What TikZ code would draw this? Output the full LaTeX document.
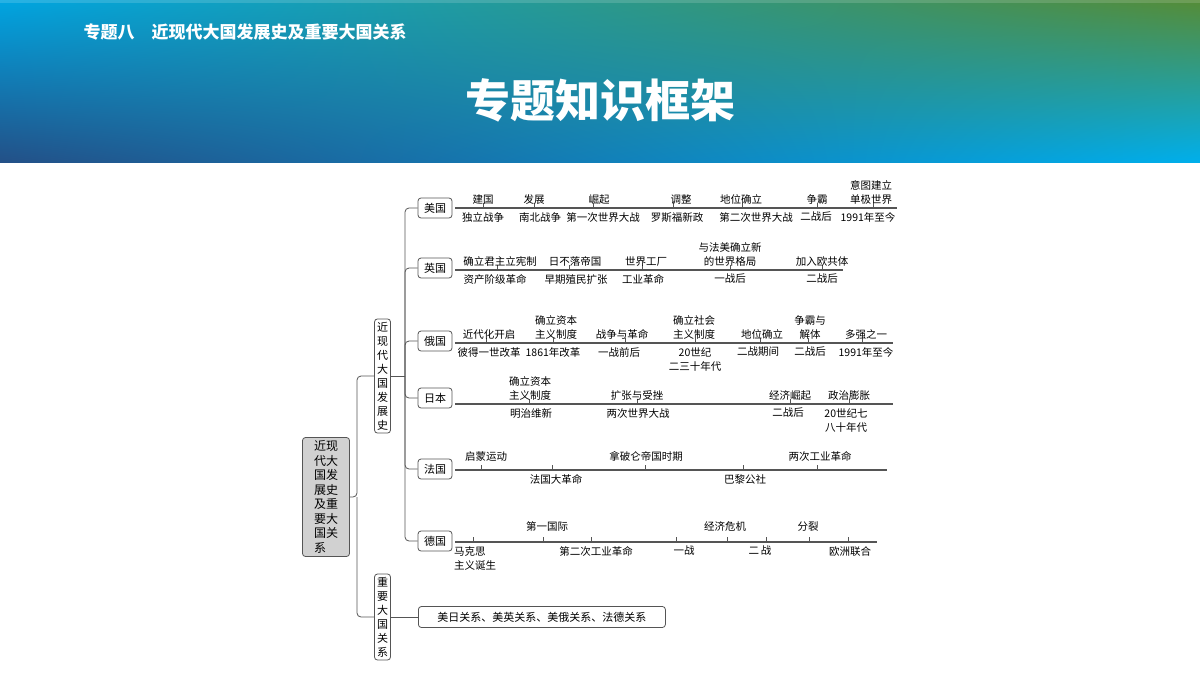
\documentclass[tikz,border=0pt]{standalone}
\usepackage{fontspec}
\setmainfont{Noto Sans CJK SC}
\usetikzlibrary{calc,shadings}
\definecolor{ln}{HTML}{555555}
\definecolor{hul}{RGB}{0,165,225}
\definecolor{hur}{RGB}{85,140,55}
\definecolor{hll}{RGB}{35,80,135}
\definecolor{hlr}{RGB}{0,175,235}
\tikzset{
  box/.style={draw=ln,line width=0.8pt,rounded corners=3pt,inner sep=2pt,font=\fontsize{11}{13}\selectfont},
  cbox/.style={box,minimum width=34pt,minimum height=20pt},
  vbox/.style={box,align=center,inner xsep=2.5pt,inner ysep=3pt,font=\fontsize{11}{14}\selectfont},
  conn/.style={draw=ln,line width=0.8pt,rounded corners=4pt},
  tl/.style={draw=ln,line width=1.1pt},
  lab/.style={inner sep=0pt,align=center,font=\fontsize{10.5}{14}\selectfont},
}
\newcommand{\ab}[3]{\node[lab,anchor=south] at (#1,#2-3) {#3};}
\newcommand{\bl}[3]{\node[lab,anchor=north] at (#1,#2+4) {#3};}
\begin{document}
\begin{tikzpicture}[x=1pt,y=-1pt]
\useasboundingbox (0,0) rectangle (1200,675);
\fill[white] (0,0) rectangle (1200,675);
\shade[upper left=hul,upper right=hur,lower left=hll,lower right=hlr]
  (0,162) rectangle (1200,0);
\fill[white,opacity=0.15] (0,0) rectangle (1200,3);
\node[white,font=\fontsize{17}{20}\selectfont\bfseries,anchor=west] (sub) at (80,32) {专题八\quad 近现代大国发展史及重要大国关系};
\node[white,font=\fontsize{45}{50}\selectfont\bfseries] (title) at (600,100) {专题知识框架};

% root
\node[box,fill=black!18,minimum width=47pt,minimum height=119pt,align=left,font=\fontsize{12}{14.5}\selectfont] (root) at (326,497)
 {近现\\代大\\国发\\展史\\及重\\要大\\国关\\系};
\node[vbox,minimum height=112pt] (dev) at (382.5,376) {近\\现\\代\\大\\国\\发\\展\\史};
\node[vbox,minimum height=86pt] (rel) at (382.5,617) {重\\要\\大\\国\\关\\系};
\draw[conn] (root.east) -- (357,497) |- (dev.west);
\draw[conn] (357,497) |- (rel.west);
\node[box,anchor=west,minimum width=247pt,minimum height=21pt] (rels) at (418,617) {美日关系、美英关系、美俄关系、法德关系};
\draw[conn] (rel.east) -- (rels.west);

% countries
\node[cbox] (us) at (435,208) {美国};
\node[cbox] (uk) at (435,268) {英国};
\node[cbox] (ru) at (435,341) {俄国};
\node[cbox] (jp) at (435,398) {日本};
\node[cbox] (fr) at (435,469) {法国};
\node[cbox] (de) at (435,541) {德国};
\draw[conn] (dev.east) -- (405,376);
\foreach \c in {us,uk,ru,jp,fr,de} \draw[conn] (405,376) |- (\c.west);

% US
\draw[tl] (us.east) ++(3,0) -- (897,208);
\foreach \x in {483,534,593,673,742,817,873} \draw[tl,line width=0.8pt] (\x,208) -- (\x,203);
\ab{483}{208}{建国}\ab{534}{208}{发展}\ab{599}{208}{崛起}\ab{681}{208}{调整}\ab{741}{208}{地位确立}\ab{817}{208}{争霸}\ab{871}{208}{意图建立\\单极世界}
\bl{483}{208}{独立战争}\bl{540}{208}{南北战争}\bl{603}{208}{第一次世界大战}\bl{677}{208}{罗斯福新政}\bl{756}{208}{第二次世界大战}\bl{816}{208}{二战后}\bl{868}{208}{1991年至今}

% UK
\draw[tl] (uk.east) ++(3,2) -- (843,270);
\foreach \x in {497,569,642,730,822} \draw[tl,line width=0.8pt] (\x,270) -- (\x,265);
\ab{500}{270}{确立君主立宪制}\ab{575}{270}{日不落帝国}\ab{646}{270}{世界工厂}\ab{730}{270}{与法美确立新\\的世界格局}\ab{822}{270}{加入欧共体}
\bl{495}{270}{资产阶级革命}\bl{576}{270}{早期殖民扩张}\bl{643}{270}{工业革命}\bl{730}{270}{一战后}\bl{822}{270}{二战后}

% Russia
\draw[tl] (ru.east) ++(3,2) -- (893,343);
\foreach \x in {486,553,625,695,760,808,862} \draw[tl,line width=0.8pt] (\x,343) -- (\x,338);
\ab{489}{343}{近代化开启}\ab{556}{343}{确立资本\\主义制度}\ab{622}{343}{战争与革命}\ab{694}{343}{确立社会\\主义制度}\ab{762}{343}{地位确立}\ab{810}{343}{争霸与\\解体}\ab{866}{343}{多强之一}
\bl{489}{343}{彼得一世改革}\bl{553}{343}{1861年改革}\bl{619}{343}{一战前后}\bl{695}{343}{20世纪\\二三十年代}\bl{758}{343}{二战期间}\bl{810}{343}{二战后}\bl{866}{343}{1991年至今}

% Japan
\draw[tl] (jp.east) ++(3,6) -- (893,404);
\foreach \x in {529,637,790,849} \draw[tl,line width=0.8pt] (\x,404) -- (\x,399);
\ab{530}{404}{确立资本\\主义制度}\ab{637}{404}{扩张与受挫}\ab{790}{404}{经济崛起}\ab{849}{404}{政治膨胀}
\bl{531}{404}{明治维新}\bl{638}{404}{两次世界大战}\bl{788}{404}{二战后}\bl{846}{404}{20世纪七\\八十年代}

% France
\draw[tl] (fr.east) ++(3,1) -- (887,470);
\foreach \x in {481,552,645,743,817} \draw[tl,line width=0.8pt] (\x,470) -- (\x,465);
\ab{486}{465}{启蒙运动}\ab{646}{465}{拿破仑帝国时期}\ab{820}{465}{两次工业革命}
\bl{556}{470}{法国大革命}\bl{745}{470}{巴黎公社}

% Germany
\draw[tl] (de.east) ++(3,1) -- (877,542);
\foreach \x in {473,543,591,676,727,766,809,848} \draw[tl,line width=0.8pt] (\x,542) -- (\x,537);
\ab{547}{535}{第一国际}\ab{725}{535}{经济危机}\ab{808}{535}{分裂}
\node[lab,anchor=north west,align=left] at (454,546) {马克思\\主义诞生};
\bl{596}{542}{第二次工业革命}\bl{684}{542}{一战}\bl{760}{542}{二\,战}\bl{850}{542}{欧洲联合}
\end{tikzpicture}
\end{document}
